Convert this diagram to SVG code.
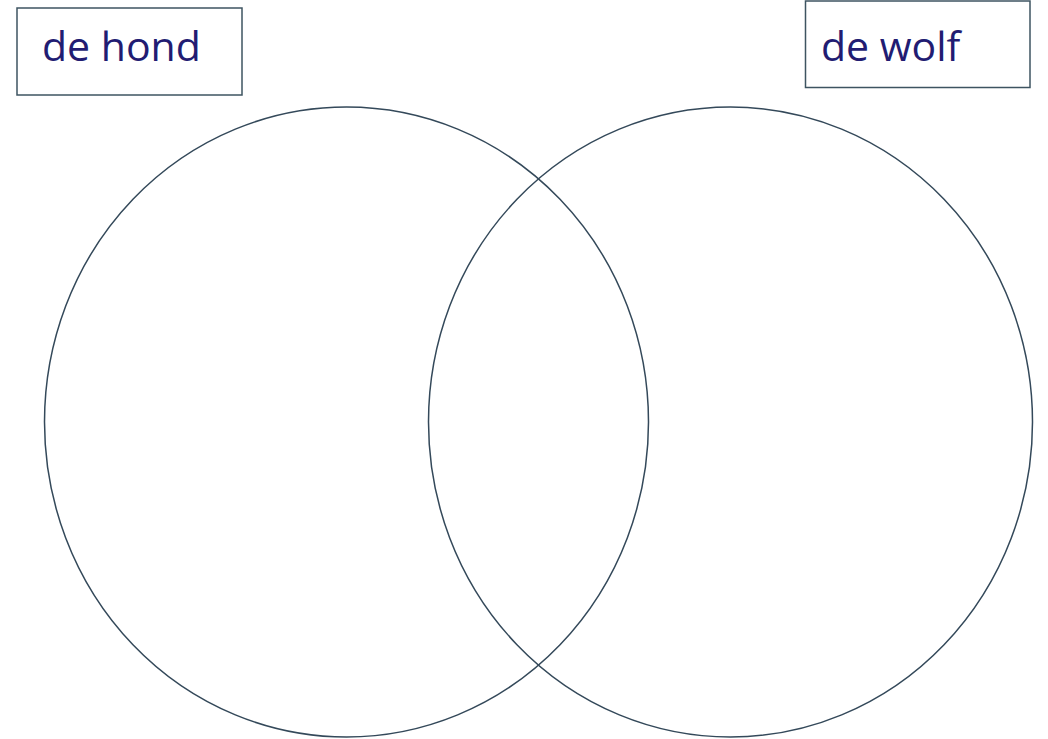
<svg xmlns="http://www.w3.org/2000/svg" width="1048" height="739" viewBox="0 0 1048 739">
  <style>
    .circle { fill: none; stroke: #34495a; stroke-width: 1.5; }
    .box { fill: #ffffff; stroke: #3e5461; stroke-width: 1.5; }
    .label { font-family: "Open Sans", "Liberation Sans", sans-serif; font-size: 41px; fill: #221c72; }
  </style>
  <rect width="1048" height="739" fill="#ffffff"/>
  <g id="venn">
    <ellipse id="circle-hond" class="circle" cx="346.5" cy="422" rx="302" ry="315"/>
    <ellipse id="circle-wolf" class="circle" cx="730.5" cy="422" rx="302" ry="315"/>
  </g>
  <g id="label-hond">
    <rect class="box" x="17" y="8" width="225" height="87"/>
    <text class="label" x="42" y="61">de hond</text>
  </g>
  <g id="label-wolf">
    <rect class="box" x="805.5" y="1" width="224.5" height="86.5"/>
    <text class="label" x="821" y="61">de wolf</text>
  </g>
  <g id="connectors"></g>
</svg>
